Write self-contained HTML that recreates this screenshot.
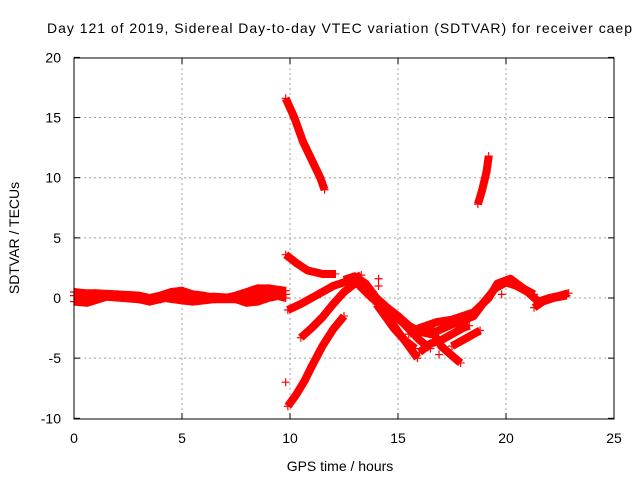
<!DOCTYPE html>
<html><head><meta charset="utf-8"><style>
body{margin:0;background:#fff}
svg{display:block;font-family:"Liberation Sans",sans-serif}
</style></head><body>
<svg id="chart" width="640" height="480">
<text x="47" y="33" font-size="14" textLength="585">Day 121 of 2019, Sidereal Day-to-day VTEC variation (SDTVAR) for receiver caep</text>
<text x="340" y="471" font-size="14" text-anchor="middle">GPS time / hours</text>
<text x="0" y="0" font-size="14" text-anchor="middle" transform="translate(19,238) rotate(-90)">SDTVAR / TECUs</text>
<g id="grid"></g><g id="ticks"></g><g id="marks"></g>
<rect x="74" y="58" width="540" height="361" fill="none" stroke="#000" stroke-width="1"/>
</svg>
<script>
const xTicks=[0,5,10,15,20,25];
const yTicks=[-10,-5,0,5,10,15,20];
const baseA=[[0,0.5],[0.5,0.4],[1,0.4],[2,0.3],[3,0.2],[3.5,0],[4,0.2],[4.5,0.5],[5,0.6],[5.5,0.3],[6,0.2],[6.5,0],[7,0],[7.5,0.2],[8,0.5],[8.5,0.8],[9,0.8],[9.8,0.6]];
const baseB=[[0,-0.3],[0.6,-0.4],[1.5,0.1],[3,-0.1],[3.5,-0.3],[4.2,0],[5,-0.2],[5.5,-0.3],[6.5,-0.1],[7.5,-0.1],[8,-0.4],[8.5,-0.3],[9,0],[9.8,0.3]];
const baseC=[[0,0.2],[1,0.1],[2,0.2],[3,0],[4,-0.1],[4.8,0.3],[5.5,0.1],[6.5,0.1],[7.5,0],[8.2,0.2],[9,0.4],[9.8,0]];
const arcHigh=[[9.8,16.6],[10.2,15],[10.6,13],[11,11.5],[11.4,10],[11.6,9]];
const arcLate=[[18.7,7.8],[18.9,9],[19.1,10.5],[19.2,11.8]];
const trackA=[[9.8,3.6],[10.3,2.9],[10.8,2.3],[11.5,2.0],[12.1,2.0]];
const trackB=[[9.9,-1.0],[10.5,-0.5],[11,0],[11.5,0.5],[12,1.0],[12.5,1.3],[13,1.6],[13.3,1.9]];
const trackC=[[10.5,-3.3],[11,-2.5],[11.5,-1.6],[12,-0.5],[12.5,0.5],[13,1.2]];
const trackD=[[9.9,-9],[10.3,-8],[10.7,-6.8],[11,-5.7],[11.5,-4],[12,-2.6],[12.5,-1.5]];
const mainBand=[[12.5,1.5],[13,1.8],[13.5,1.2],[14,0],[14.5,-0.8],[15,-1.5],[15.5,-2.3],[16,-2.8],[16.5,-3],[17,-2.6],[17.5,-2.2],[18,-1.9],[18.5,-1.5],[19,-0.3],[19.5,0.8],[20,1.3],[20.5,1],[21,0.5],[21.5,-0.3],[22,0],[22.5,0.2],[22.9,0.4]];
const mainBand2=[[13,1.4],[13.8,0],[14.5,-1],[15.2,-2],[16,-3.5],[16.5,-4.2]];
const mainBand3=[[15.5,-3],[16,-2.5],[16.8,-2],[17.5,-1.8],[18.5,-1.2],[19.2,0],[19.6,1.2],[20.2,1.6],[20.8,0.8],[21.3,0.3]];
const branch1=[[13.8,0.5],[14.5,-1.5],[15,-2.8],[15.5,-4],[15.9,-5]];
const branch2=[[14,-0.5],[14.8,-2.5],[15.3,-3.5],[15.8,-4.2]];
const branch3=[[16,-4.5],[16.5,-3.8],[17,-3.5],[17.5,-3],[18,-2.5],[18.3,-2.3]];
const branch4=[[16.5,-2.5],[17,-4],[17.5,-4.8],[17.9,-5.4]];
const branch5=[[17.5,-4],[18,-3.5],[18.8,-2.7]];
const branch6=[[21.3,-0.8],[21.7,-0.3],[22.2,0],[22.8,0.2]];
const outliers=[[9.8,-7],[14.1,1.6],[14.1,1.0],[16.9,-4.7],[19.8,0.3]];
const tracks=[baseA,baseB,baseC,arcHigh,arcLate,trackA,trackB,trackC,trackD,mainBand,mainBand2,mainBand3,branch1,branch2,branch3,branch4,branch5,branch6];

const X=v=>74+v*21.6, Y=v=>298-v*12.03;
const NS='http://www.w3.org/2000/svg';
function mk(t,a,p){const e=document.createElementNS(NS,t);for(const k in a)e.setAttribute(k,a[k]);p.appendChild(e);return e;}
const grid=document.getElementById('grid'),ticks=document.getElementById('ticks'),marks=document.getElementById('marks');
xTicks.forEach(t=>{
 if(t>0&&t<25){const l=mk('line',{x1:X(t),x2:X(t),y1:58,y2:419,stroke:'#a0a0a0','stroke-dasharray':'2,3'},grid);
 
 }
 mk('line',{x1:X(t),x2:X(t),y1:419,y2:413,stroke:'#000'},ticks);
 mk('line',{x1:X(t),x2:X(t),y1:58,y2:64,stroke:'#000'},ticks);
 const s=mk('text',{x:X(t),y:443,'font-size':14,'text-anchor':'middle'},ticks);s.textContent=t;
 
 
});
yTicks.forEach(t=>{
 if(t>-10&&t<20){const l=mk('line',{x1:74,x2:614,y1:Y(t),y2:Y(t),stroke:'#a0a0a0','stroke-dasharray':'2,3'},grid);
 
 }
 mk('line',{x1:74,x2:80,y1:Y(t),y2:Y(t),stroke:'#000'},ticks);
 mk('line',{x1:614,x2:608,y1:Y(t),y2:Y(t),stroke:'#000'},ticks);
 const s=mk('text',{x:61,y:Y(t)+5,'font-size':14,'text-anchor':'end'},ticks);s.textContent=t;
 
 
});
function plus(x,y,g){mk('path',{d:`M${x-4},${y}h8M${x},${y-4}v8`,stroke:'#f00','stroke-width':1.2},g);}
tracks.forEach(tr=>{
 const g=mk('g',{},marks);
 
 
 mk('polyline',{points:tr.map(p=>X(p[0])+','+Y(p[1])).join(' '),fill:'none',stroke:'#f00','stroke-width':8,'stroke-linejoin':'round','stroke-linecap':'butt'},g);
 tr.forEach(p=>plus(X(p[0]),Y(p[1]),g));
});
const og=mk('g',{},marks);


outliers.forEach(p=>plus(X(p[0]),Y(p[1]),og));
</script>
</body></html>
